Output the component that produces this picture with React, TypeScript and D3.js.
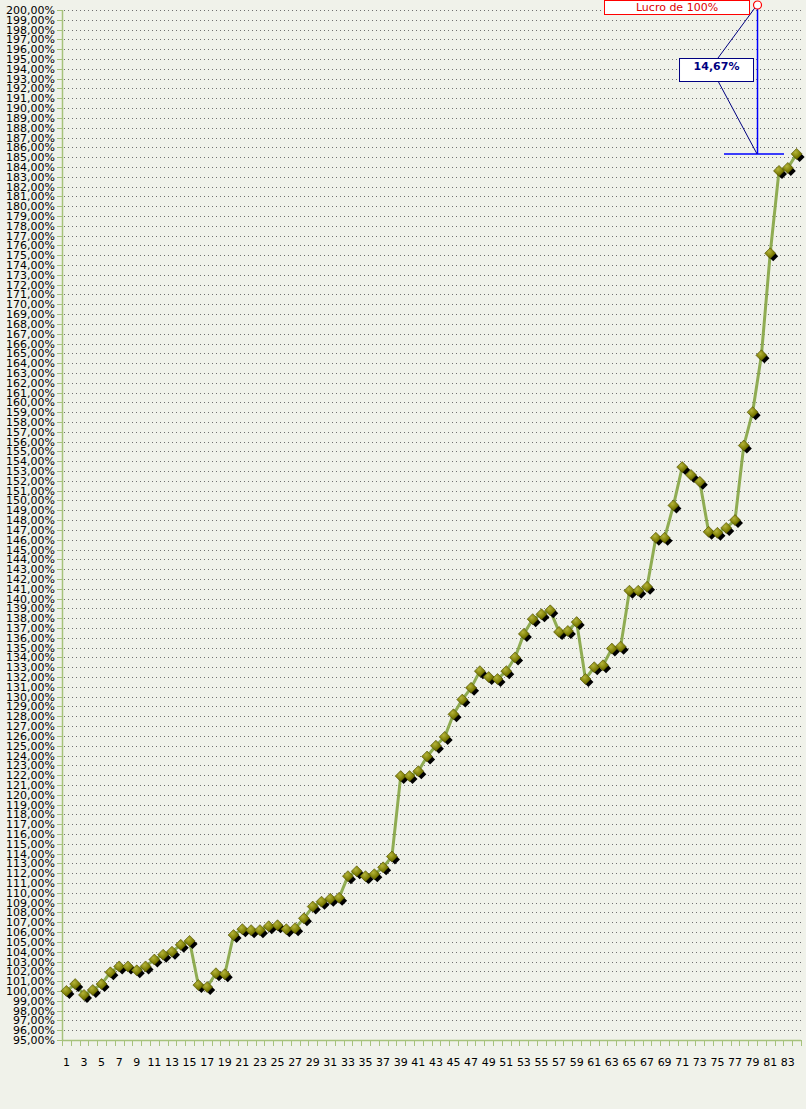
import React from 'react';
import * as d3 from 'd3';

// percent of capital after each trade
const periods: number[] = Array.from({length: 84}, (_, i) => i + 1);
const equity: number[] = [
  100.0, 100.7, 99.6, 100.1, 100.7, 101.9, 102.5, 102.5, 102.1, 102.5,
  103.2, 103.7, 104.0, 104.7, 105.1, 100.6, 100.4, 101.8, 101.7, 105.7,
  106.3, 106.2, 106.2, 106.6, 106.7, 106.3, 106.4, 107.4, 108.6, 109.1,
  109.4, 109.5, 111.7, 112.2, 111.7, 111.9, 112.6, 113.7, 121.9, 121.9,
  122.4, 123.9, 125.0, 125.9, 128.2, 129.7, 130.9, 132.6, 132.0, 131.8,
  132.6, 134.0, 136.4, 137.9, 138.4, 138.8, 136.6, 136.7, 137.6, 131.8,
  133.0, 133.2, 134.9, 135.1, 140.8, 140.8, 141.2, 146.2, 146.2, 149.5,
  153.4, 152.6, 151.9, 146.8, 146.7, 147.2, 148.0, 155.6, 159.0, 164.8,
  175.2, 183.6, 183.9, 185.33,
];
const yTicks: number[] = d3.range(95, 201, 1);
const xTickLabels: number[] = periods.filter(p => p % 2 === 1);
const targetValue = 200;
const targetLabel = 'Lucro de 100%';
const targetAnchorPeriod = 80;

const W = 806, H = 1109;
const bg = '#f0f2ea';
const axisColor = '#a6c27c';
const font = '"DejaVu Sans", Verdana, sans-serif';

const fmt = (v: number) => v.toFixed(2).replace('.', ',') + '%';

export default function App() {
  const x = d3.scaleBand<number>().domain(periods).range([62, 801]).padding(0);
  const y = d3.scaleLinear().domain([95, 200]).range([1040, 10]);
  const cx = (p: number) => (x(p) as number) + x.bandwidth() / 2;

  const pts: [number, number][] = equity.map((v, i) => [cx(periods[i]), y(v)]);
  const path = d3.line()(pts) as string;

  const last = equity[equity.length - 1];
  const ax = x(targetAnchorPeriod) as number;
  const yTop = y(targetValue) - 5;
  const yLast = y(last);
  const diff = targetValue - last;
  const boxX = ax - 78, boxY = yTop + 53, boxW = 74, boxH = 23;

  const diamond = (r: number) => `M0,${-r}L${r},0L0,${r}L${-r},0Z`;

  return (
    <svg width={W} height={H} style={{position: 'absolute', left: 0, top: 0}} fontFamily={font}>
      <defs>
        <radialGradient id="mk" cx="40%" cy="35%" r="70%">
          <stop offset="0%" stopColor="#b4b43a" />
          <stop offset="60%" stopColor="#7f7f05" />
          <stop offset="100%" stopColor="#5c5c00" />
        </radialGradient>
      </defs>
      <rect x={0} y={0} width={W} height={H} fill={bg} />

      {/* grid */}
      <g>
        {yTicks.filter(t => t > 95).map(t => (
          <line key={t} x1={64} x2={801} y1={Math.round(y(t)) + 0.5} y2={Math.round(y(t)) + 0.5}
            stroke="#707070" strokeWidth={1} strokeDasharray="1,3" />
        ))}
      </g>

      {/* y axis */}
      <g>
        <line x1={62.5} x2={62.5} y1={y(200)} y2={1040} stroke={axisColor} strokeWidth={1.5} />
        {yTicks.map(t => (
          <g key={t} transform={`translate(0,${Math.round(y(t)) + 0.5})`}>
            <line x1={57} x2={62} stroke={axisColor} strokeWidth={1} />
            <text x={55} dy="0.36em" textAnchor="end" fontSize={11} fill="#000">{fmt(t)}</text>
          </g>
        ))}
      </g>

      {/* x axis */}
      <g>
        <line x1={62} x2={801} y1={1040.5} y2={1040.5} stroke={axisColor} strokeWidth={1.5} />
        {periods.concat([periods.length + 1]).map((p, i) => {
          const xx = Math.round(62 + i * x.bandwidth()) + 0.5;
          return <line key={p} x1={xx} x2={xx} y1={1040} y2={1046} stroke={axisColor} strokeWidth={1} />;
        })}
        {xTickLabels.map(p => (
          <text key={p} x={cx(p)} y={1066} textAnchor="middle" fontSize={11} fill="#000">{p}</text>
        ))}
      </g>

      {/* line */}
      <path d={path} fill="none" stroke="#8fac52" strokeWidth={3} strokeLinejoin="round" />

      {/* markers */}
      <g>
        {pts.map(([px, py], i) => (
          <path key={'s' + i} d={diamond(5)} transform={`translate(${px + 3},${py + 3})`} fill="#000" />
        ))}
        {pts.map(([px, py], i) => (
          <path key={'m' + i} d={diamond(5.5)} transform={`translate(${px},${py})`}
            fill="url(#mk)" stroke="#4e4e00" strokeWidth={0.6} />
        ))}
      </g>

      {/* target annotation */}
      <g>
        <line x1={ax + 0.5} x2={ax + 0.5} y1={yTop} y2={yLast} stroke="#0000ff" strokeWidth={1.5} />
        <line x1={ax - 33} x2={ax + 27} y1={yLast} y2={yLast} stroke="#0000ff" strokeWidth={1.5} />
        <line x1={ax} y1={yTop} x2={boxX + 39} y2={boxY} stroke="#000080" strokeWidth={1} />
        <line x1={boxX + 39} y1={boxY + boxH} x2={ax} y2={yLast} stroke="#000080" strokeWidth={1} />
        <rect x={boxX + 0.5} y={boxY + 0.5} width={boxW} height={boxH} fill="#fff" stroke="#000080" strokeWidth={1} />
        <text x={boxX + boxW / 2 + 0.5} y={boxY + 12} textAnchor="middle" fontSize={11} fontWeight="bold" fill="#000080">{fmt(diff)}</text>

        <rect x={604.5} y={0.5} width={ax - 612} height={14} fill="#fff" stroke="#ff0000" strokeWidth={1} />
        <text x={604.5 + (ax - 612) / 2} y={11} textAnchor="middle" fontSize={11} fill="#e00000">{targetLabel}</text>
        <circle cx={ax + 0.5} cy={yTop} r={4} fill="#fff" stroke="#ff0000" strokeWidth={1.2} />
      </g>
    </svg>
  );
}
